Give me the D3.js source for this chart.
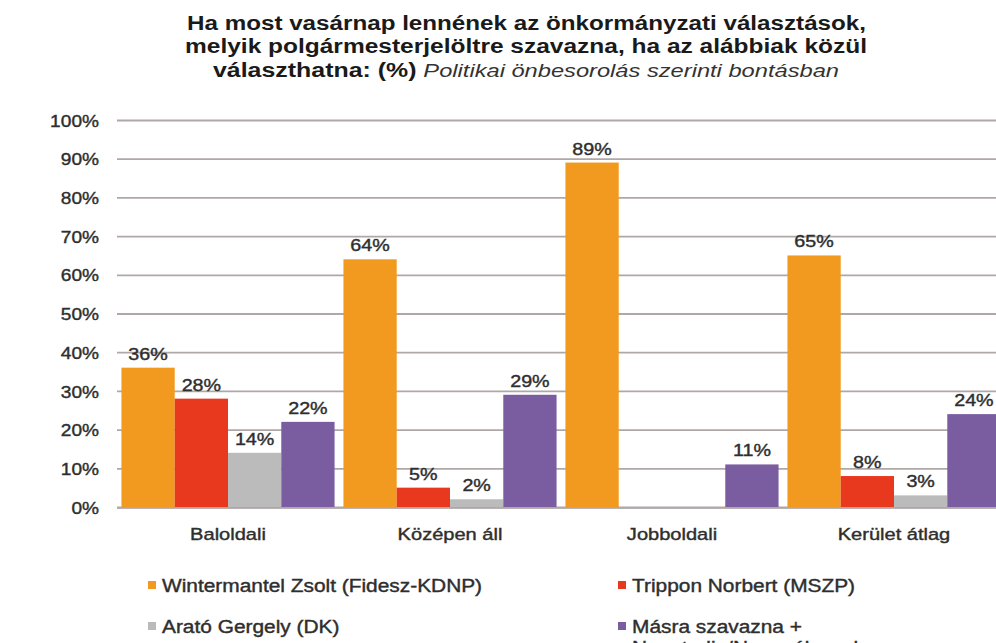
<!DOCTYPE html>
<html><head><meta charset="utf-8">
<script src="https://cdn.jsdelivr.net/npm/d3@7/dist/d3.min.js"></script>
<style>body{margin:0;background:#fff} svg{display:block;background:#fff}</style>
</head><body>
<svg id="chart" width="996" height="643"></svg>
<script>
// ---- data ----
const categories = ["Baloldali", "Középen áll", "Jobboldali", "Kerület átlag"];
const seriesNames = ["Wintermantel Zsolt (Fidesz-KDNP)", "Trippon Norbert (MSZP)", "Arató Gergely (DK)", "Másra szavazna + Nem tudja/Nem válaszol"];
const wintermantel = [36, 64, 89, 65];
const trippon = [28, 5, 0, 8];
const arato = [14, 2, 0, 3];
const masra = [22, 29, 11, 24];
const yTicks = [0, 10, 20, 30, 40, 50, 60, 70, 80, 90, 100];
const titleLine1 = "Ha most vasárnap lennének az önkormányzati választások,";
const titleLine2 = "melyik polgármesterjelöltre szavazna, ha az alábbiak közül";
const titleLine3Bold = "választhatna: (%) ";
const titleLine3Italic = "Politikai önbesorolás szerinti bontásban";

const colors = ["#F29A1F", "#E8391F", "#BBBBBB", "#7A5CA0"];
const series = [wintermantel, trippon, arato, masra];
const keys = d3.range(series.length);

const svg = d3.select("#chart");
const FONT = "'Liberation Sans', Arial, sans-serif";
const TXT = "#2e2e2e";
const SW = 0.4;
const SX = 1.16;

const plotLeft = 117, plotRight = 1005, plotTop = 120, plotBottom = 507;
const y = d3.scaleLinear().domain([0, 100]).range([plotBottom, plotTop]);
const x0 = d3.scaleBand().domain(categories).range([plotLeft, plotRight]).paddingInner(0.04).paddingOuter(0.02);
const x1 = d3.scaleBand().domain(keys).range([0, x0.bandwidth()]);

// ---- title ----
const title = svg.append("g").attr("font-family", FONT).attr("fill", "#1a1a1a").attr("font-size", 20);
title.append("text").attr("x", 187).attr("y", 30).attr("font-weight", "bold")
  .attr("textLength", 679).attr("lengthAdjust", "spacingAndGlyphs").text(titleLine1);
title.append("text").attr("x", 185).attr("y", 53).attr("font-weight", "bold")
  .attr("textLength", 682).attr("lengthAdjust", "spacingAndGlyphs").text(titleLine2);
const t3 = title.append("text").attr("x", 213).attr("y", 77)
  .attr("textLength", 626).attr("lengthAdjust", "spacingAndGlyphs");
t3.append("tspan").attr("font-weight", "bold").text(titleLine3Bold);
t3.append("tspan").attr("font-style", "italic").attr("font-size", 19).attr("fill", "#333").text(titleLine3Italic);

// ---- y axis + grid ----
const yAxis = svg.append("g").attr("transform", `translate(${plotLeft},0)`)
  .call(d3.axisLeft(y).tickValues(yTicks).tickSize(-(1000 - plotLeft)).tickPadding(16).tickFormat(d => d + "%"));
yAxis.select(".domain").remove();
yAxis.selectAll(".tick line").attr("stroke", "#b0a7a7").attr("stroke-width", 1.8);
yAxis.selectAll(".tick text").attr("font-family", FONT).attr("font-size", 17).attr("fill", TXT)
  .attr("dy", "0.36em").attr("transform", `scale(${SX * 0.97},1)`).attr("stroke", TXT).attr("stroke-width", SW);

// ---- bars ----
const groups = svg.append("g").selectAll("g").data(categories).join("g")
  .attr("transform", d => `translate(${x0(d)},0)`);
groups.selectAll("rect").data((c, i) => keys.map(k => ({ k, v: series[k][i] }))).join("rect")
  .attr("x", d => x1(d.k)).attr("width", x1.bandwidth())
  .attr("y", d => y(d.v)).attr("height", d => y(0) - y(d.v))
  .attr("fill", d => colors[d.k]);

// ---- value labels ----
groups.selectAll("text").data((c, i) => keys.map(k => ({ k, v: series[k][i] })).filter(d => d.v > 0)).join("text")
  .attr("transform", d => `translate(${x1(d.k) + x1.bandwidth() / 2},${y(d.v) - 8}) scale(${SX},1)`)
  .attr("text-anchor", "middle").attr("font-family", FONT).attr("font-size", 17)
  .attr("fill", TXT).attr("stroke", TXT).attr("stroke-width", SW)
  .text(d => d.v + "%");

// baseline
svg.append("line").attr("x1", plotLeft).attr("x2", 1000).attr("y1", y(0) + 0.8).attr("y2", y(0) + 0.8)
  .attr("stroke", "#b0a7a7").attr("stroke-width", 1.8);

// ---- x axis ----
const xAxis = svg.append("g").attr("transform", `translate(0,${plotBottom})`)
  .call(d3.axisBottom(x0).tickSize(0).tickPadding(21));
xAxis.select(".domain").remove();
xAxis.selectAll(".tick text").attr("font-family", FONT).attr("font-size", 17).attr("fill", TXT)
  .attr("transform", `scale(${SX + 0.02},1)`).attr("stroke", TXT).attr("stroke-width", SW);

// ---- legend ----
const legendPos = [[148, 592], [618, 592], [148, 633], [618, 633]];
const legend = svg.append("g").selectAll("g").data(keys).join("g")
  .attr("transform", k => `translate(${legendPos[k][0]},${legendPos[k][1]})`);
legend.append("rect").attr("x", 0).attr("y", -11).attr("width", 8).attr("height", 8).attr("fill", k => colors[k]);
legend.append("text").attr("transform", `translate(14,0) scale(${SX},1)`)
  .attr("font-family", FONT).attr("font-size", 18).attr("fill", TXT).attr("stroke", TXT).attr("stroke-width", SW)
  .each(function (k) {
    const name = seriesNames[k];
    const parts = k === 3 ? ["Másra szavazna +", "Nem tudja/Nem válaszol"] : [name];
    parts.forEach((p, i) => d3.select(this).append("tspan").attr("x", 0).attr("dy", i === 0 ? 0 : 21).text(p));
  });
</script>
</body></html>
